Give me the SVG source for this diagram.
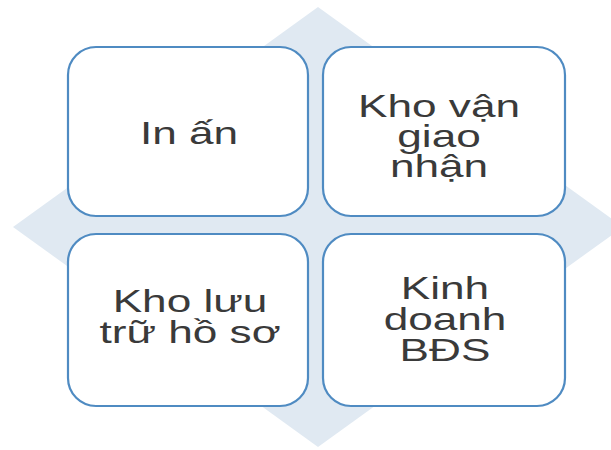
<svg xmlns="http://www.w3.org/2000/svg" width="611" height="450" viewBox="0 0 611 450">
  <style>
    .box { fill: #ffffff; stroke: #4f8bc2; stroke-width: 2.2; }
    .lbl { font-family: "Liberation Sans", Arial, sans-serif; font-size: 32px; fill: #3a3a3a; text-anchor: middle; }
  </style>
  <rect width="611" height="450" fill="#ffffff"/>
  <polygon id="backdrop" points="318,7 623,227 318,447 13,227" fill="#e0e9f2"/>
  <g id="connectors"></g>
  <g id="node-in-an">
    <rect class="box" x="68" y="47" width="240" height="169" rx="28" ry="28"/>
    <g transform="translate(189,0) scale(1.38,1)">
      <text class="lbl" x="0" y="144">In ấn</text>
    </g>
  </g>
  <g id="node-kho-van">
    <rect class="box" x="323" y="47" width="242" height="169" rx="28" ry="28"/>
    <g transform="translate(439,0) scale(1.38,1)">
      <text class="lbl" x="0" y="117">Kho vận</text>
      <text class="lbl" x="0" y="147">giao</text>
      <text class="lbl" x="0" y="177">nhận</text>
    </g>
  </g>
  <g id="node-kho-luu">
    <rect class="box" x="68" y="234" width="240" height="172" rx="28" ry="28"/>
    <g transform="translate(190,0) scale(1.38,1)">
      <text class="lbl" x="0" y="312">Kho lưu</text>
      <text class="lbl" x="0" y="343">trữ hồ sơ</text>
    </g>
  </g>
  <g id="node-kinh-doanh">
    <rect class="box" x="323" y="234" width="242" height="172" rx="28" ry="28"/>
    <g transform="translate(445,0) scale(1.38,1)">
      <text class="lbl" x="0" y="299">Kinh</text>
      <text class="lbl" x="0" y="330">doanh</text>
      <text class="lbl" x="0" y="361">BĐS</text>
    </g>
  </g>
</svg>
